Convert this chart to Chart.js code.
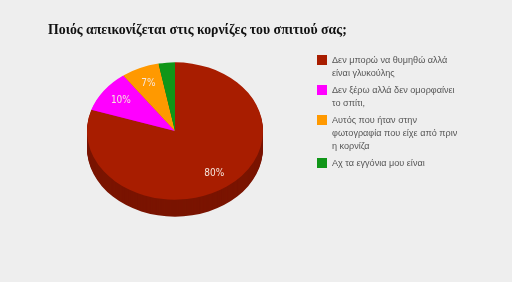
<!DOCTYPE html>
<html>
<head>
<meta charset="utf-8">
<script src="https://cdn.jsdelivr.net/npm/chart.js@4/dist/chart.umd.min.js"></script>
<style>
  html, body { margin: 0; padding: 0; background: #eeeeee; }
  #wrap { position: relative; width: 512px; height: 282px; overflow: hidden; }
  #chart { position: absolute; left: 0; top: 0; }
  #title {
    position: absolute; left: 48px; top: 22px;
    font: bold 13.8px "Liberation Serif", "DejaVu Serif", serif; color: #111;
    white-space: nowrap;
  }
  #legend { position: absolute; left: 317px; top: 54px; font: 9.1px "Liberation Sans", Arial, sans-serif; color: #555; }
  .item { position: relative; padding-left: 15px; line-height: 13px; margin-bottom: 4px; }
  .box { position: absolute; left: 0; top: 1px; width: 10px; height: 10px; }
</style>
</head>
<body>
<div id="wrap">
  <canvas id="chart" width="512" height="282"></canvas>
  <div id="title">Ποιός απεικονίζεται στις κορνίζες του σπιτιού σας;</div>
  <div id="legend"></div>
</div>
<script>
const categories = [
  ['Δεν μπορώ να θυμηθώ αλλά', 'είναι γλυκούλης'],
  ['Δεν ξέρω αλλά δεν ομορφαίνει', 'το σπίτι,'],
  ['Αυτός που ήταν στην', 'φωτογραφία που είχε από πριν', 'η κορνίζα'],
  ['Αχ τα εγγόνια μου είναι']
];
const values = [80, 10, 7, 3];
const colors = ['#a81d00', '#ff00ff', '#ff9900', '#109618'];
const sideColors = ['#7a1400', '#b000b0', '#b86e00', '#0a6a10'];

const squash = 0.78;
const depth = 17;

// legend as html so the wrapped lines stay real text
const legend = document.getElementById('legend');
categories.forEach((lines, i) => {
  const item = document.createElement('div');
  item.className = 'item';
  item.innerHTML = '<span class="box" style="background:' + colors[i] + '"></span>' + lines.join('<br>');
  legend.appendChild(item);
});

const pie3d = {
  id: 'pie3d',
  beforeDatasetsDraw(chart) {
    const ctx = chart.ctx;
    const arcs = chart.getDatasetMeta(0).data;
    const cx = arcs[0].x, cy = arcs[0].y;
    // extruded side
    for (let d = depth; d >= 1; d--) {
      ctx.save();
      ctx.translate(cx, cy + d);
      ctx.scale(1, squash);
      arcs.forEach((arc, i) => {
        ctx.beginPath();
        ctx.moveTo(0, 0);
        ctx.arc(0, 0, arc.outerRadius, arc.startAngle, arc.endAngle);
        ctx.closePath();
        ctx.fillStyle = sideColors[i];
        ctx.fill();
      });
      ctx.restore();
    }
    // top face is drawn by chart.js inside this squashed transform
    ctx.save();
    ctx.translate(cx, cy);
    ctx.scale(1, squash);
    ctx.translate(-cx, -cy);
  },
  afterDatasetsDraw(chart) {
    const ctx = chart.ctx;
    ctx.restore();
    const arcs = chart.getDatasetMeta(0).data;
    const total = values.reduce((s, v) => s + v, 0);
    ctx.save();
    ctx.fillStyle = '#f6e6dc';
    ctx.font = '10px "DejaVu Sans Condensed", "Liberation Sans Narrow", sans-serif';
    ctx.textAlign = 'center';
    ctx.textBaseline = 'middle';
    arcs.forEach((arc, i) => {
      const pct = Math.round(values[i] / total * 100);
      if (pct < 5) return;
      const mid = (arc.startAngle + arc.endAngle) / 2;
      const r = arc.outerRadius * 0.76;
      const x = arc.x + Math.cos(mid) * r;
      const y = arc.y + Math.sin(mid) * r * squash;
      ctx.fillText(pct + '%', x, y);
    });
    ctx.restore();
  }
};

new Chart(document.getElementById('chart'), {
  type: 'pie',
  data: {
    labels: categories.map(c => c.join(' ')),
    datasets: [{
      data: values,
      backgroundColor: colors,
      borderWidth: 0
    }]
  },
  options: {
    responsive: false,
    animation: false,
    layout: { padding: { left: 87, right: 249, top: 43, bottom: 63 } },
    plugins: {
      legend: { display: false },
      tooltip: { enabled: false }
    }
  },
  plugins: [pie3d]
});
</script>
</body>
</html>
